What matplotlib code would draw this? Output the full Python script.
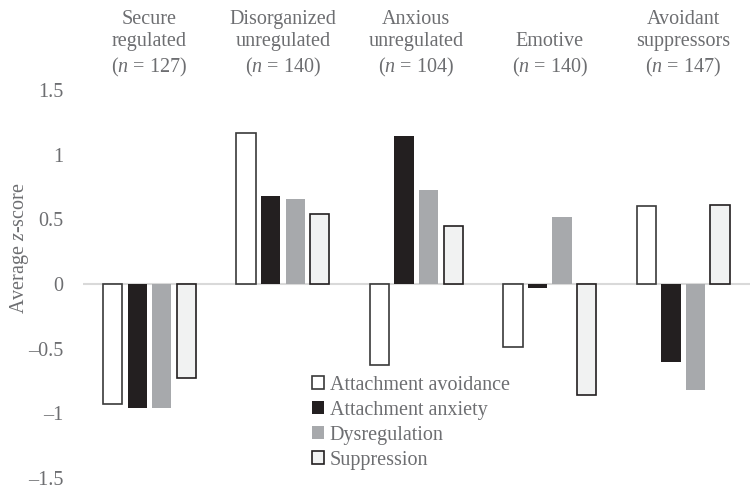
import matplotlib.pyplot as plt
import numpy as np

categories = [
    "Secure\nregulated\n($\\it{n}$ = 127)",
    "Disorganized\nunregulated\n($\\it{n}$ = 140)",
    "Anxious\nunregulated\n($\\it{n}$ = 104)",
    "Emotive\n($\\it{n}$ = 140)",
    "Avoidant\nsuppressors\n($\\it{n}$ = 147)",
]
series_names = ["Attachment avoidance", "Attachment anxiety", "Dysregulation", "Suppression"]
avoidance = [-0.93, 1.17, -0.63, -0.49, 0.60]
anxiety = [-0.96, 0.68, 1.14, -0.03, -0.60]
dysregulation = [-0.96, 0.66, 0.73, 0.52, -0.82]
suppression = [-0.73, 0.54, 0.45, -0.86, 0.61]
y_ticks = [-1.5, -1, -0.5, 0, 0.5, 1, 1.5]
y_tick_labels = ["\u20131.5", "\u20131", "\u20130.5", "0", "0.5", "1", "1.5"]

plt.rcParams["font.family"] = ["Liberation Serif", "DejaVu Serif"]
plt.rcParams["mathtext.fontset"] = "custom"
plt.rcParams["mathtext.rm"] = "Liberation Serif"
plt.rcParams["mathtext.it"] = "Liberation Serif:italic"

TEXT = "#6d6e71"
FS = 14.5
styles = [
    dict(facecolor="white", edgecolor="#3a3a3a", linewidth=1.2),
    dict(facecolor="#231f20", edgecolor="#231f20", linewidth=0.0),
    dict(facecolor="#a7a9ac", edgecolor="#a7a9ac", linewidth=0.0),
    dict(facecolor="#f1f2f2", edgecolor="#231f20", linewidth=1.2),
]

fig = plt.figure(figsize=(7.53, 4.90), dpi=100)
ax = fig.add_axes([0.11, 0.0245, 0.886, 0.792])

x = np.arange(len(categories))
width = 0.145
step = 0.184
for i, (name, vals, st) in enumerate(
    zip(series_names, [avoidance, anxiety, dysregulation, suppression], styles)
):
    ax.bar(x + (i - 1.5) * step, vals, width, label=name, zorder=3, **st)

ax.axhline(0, color="#d9d9d9", linewidth=1.5, zorder=2)
ax.set_xlim(-0.5, len(categories) - 0.5)
ax.set_ylim(-1.5, 1.5)
ax.set_yticks(y_ticks)
ax.set_yticklabels(y_tick_labels, color=TEXT, fontsize=FS)
ax.tick_params(axis="y", length=0, pad=14)
ax.set_xticks([])
for s in ax.spines.values():
    s.set_visible(False)
ax.set_ylabel("Average $\\it{z}$-score", color=TEXT, fontsize=FS)
ax.yaxis.set_label_coords(-0.077, 0.593)

for xi, label in zip(x, categories):
    ax.annotate(label, xy=(xi, 1.0), xycoords=("data", "axes fraction"),
                xytext=(0, 8), textcoords="offset points",
                ha="center", va="bottom", color=TEXT, fontsize=FS,
                linespacing=1.27)

leg = ax.legend(loc="lower left", bbox_to_anchor=(0.332, 0.0), frameon=False,
                fontsize=FS, handlelength=0.6, handleheight=0.6,
                handletextpad=0.25, labelspacing=0.3, borderaxespad=0)
for t in leg.get_texts():
    t.set_color(TEXT)

fig.savefig("out.png", dpi=100)
